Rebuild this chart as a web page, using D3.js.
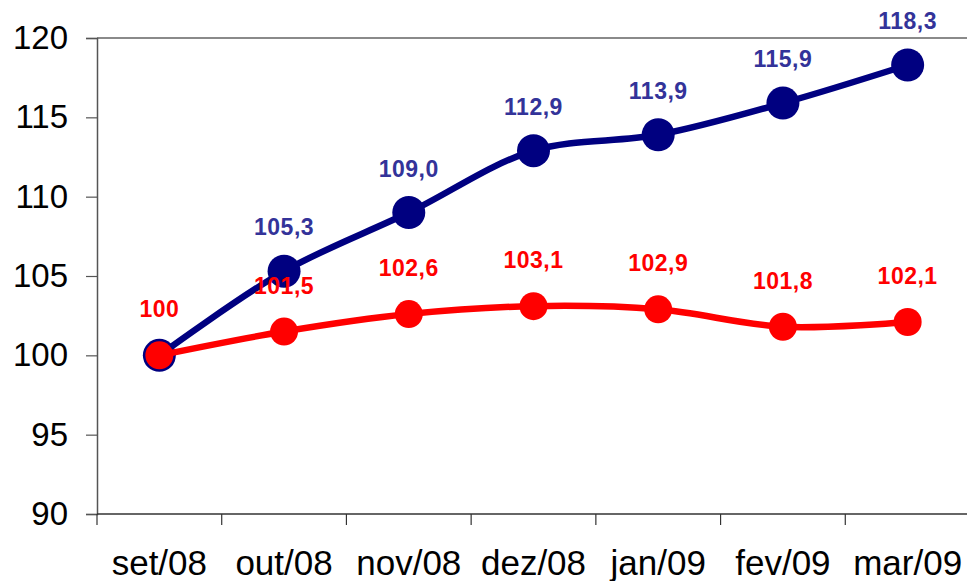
<!DOCTYPE html>
<html>
<head>
<meta charset="utf-8">
<script src="https://cdn.jsdelivr.net/npm/d3@7"></script>
<style>
  html, body { margin: 0; padding: 0; background: #fff; overflow: hidden; }
  svg { display: block; }
</style>
</head>
<body>
<svg id="chart" width="967" height="581"></svg>
<script>
// Index series (set/08 = 100)
const months = ["set/08", "out/08", "nov/08", "dez/08", "jan/09", "fev/09", "mar/09"];
const seriesBlue = [100, 105.3, 109.0, 112.9, 113.9, 115.9, 118.3];
const seriesRed = [100, 101.5, 102.6, 103.1, 102.9, 101.8, 102.1];
const labelsBlue = [null, "105,3", "109,0", "112,9", "113,9", "115,9", "118,3"];
const labelsRed = ["100", "101,5", "102,6", "103,1", "102,9", "101,8", "102,1"];
const yTicks = [90, 95, 100, 105, 110, 115, 120];

const svg = d3.select("#chart");
const plot = { left: 97, right: 970, top: 38, bottom: 514 };

const x = d3.scaleBand().domain(months).range([plot.left, plot.right]).paddingInner(0).paddingOuter(0);
const y = d3.scaleLinear().domain([90, 120]).range([plot.bottom, plot.top]);
const cx = d => x(d) + x.bandwidth() / 2;
const axisColor = "#555";

// plot-area frame (top edge)
svg.append("line")
  .attr("x1", plot.left).attr("x2", plot.right)
  .attr("y1", plot.top).attr("y2", plot.top)
  .attr("stroke", "#8a8a8a").attr("stroke-width", 2);

// y axis
const yAxis = svg.append("g")
  .attr("transform", `translate(${plot.left},0)`)
  .call(d3.axisLeft(y).tickValues(yTicks).tickSize(11).tickPadding(18).tickFormat(d3.format("d")));
yAxis.select(".domain").attr("stroke", axisColor).attr("stroke-width", 1.5);
yAxis.selectAll(".tick line").attr("stroke", axisColor).attr("stroke-width", 1.2);
yAxis.selectAll(".tick text")
  .attr("font-family", "Liberation Sans, Arial, sans-serif")
  .attr("font-size", 33).attr("fill", "#000");

// x axis: ticks at category boundaries
const xAxis = svg.append("g")
  .attr("transform", `translate(0,${plot.bottom})`);
xAxis.append("line")
  .attr("x1", plot.left).attr("x2", plot.right)
  .attr("y1", 0).attr("y2", 0)
  .attr("stroke", "#333").attr("stroke-width", 1.5);
xAxis.selectAll("line.tk")
  .data(months)
  .enter().append("line")
  .attr("class", "tk")
  .attr("x1", d => x(d)).attr("x2", d => x(d))
  .attr("y1", 0).attr("y2", 11)
  .attr("stroke", "#333").attr("stroke-width", 1.2);
xAxis.selectAll("text")
  .data(months)
  .enter().append("text")
  .attr("x", d => cx(d))
  .attr("y", 61)
  .attr("text-anchor", "middle")
  .attr("font-family", "Liberation Sans, Arial, sans-serif")
  .attr("font-size", 35)
  .attr("fill", "#000")
  .text(d => d);

const line = d3.line().curve(d3.curveCatmullRom.alpha(0.5));

function drawSeries(values, color, lineWidth, r) {
  const pts = values.map((v, i) => [cx(months[i]), y(v)]);
  svg.append("path")
    .attr("d", line(pts))
    .attr("fill", "none")
    .attr("stroke", color)
    .attr("stroke-width", lineWidth)
    .attr("stroke-linejoin", "round");
  svg.append("g").selectAll("circle")
    .data(pts)
    .enter().append("circle")
    .attr("cx", d => d[0]).attr("cy", d => d[1])
    .attr("r", r)
    .attr("fill", color);
}

drawSeries(seriesBlue, "#000080", 6.5, 16.5);
drawSeries(seriesRed, "#ff0000", 6.5, 14);

function drawLabels(values, labels, color, offset) {
  svg.append("g").selectAll("text")
    .data(values.map((v, i) => ({ v, i, t: labels[i] })).filter(d => d.t))
    .enter().append("text")
    .attr("x", d => cx(months[d.i]))
    .attr("y", d => y(d.v) - offset)
    .attr("text-anchor", "middle")
    .attr("font-family", "Liberation Sans, Arial, sans-serif")
    .attr("font-weight", "bold")
    .attr("font-size", 23)
    .attr("letter-spacing", 0.5)
    .attr("fill", color)
    .text(d => d.t);
}

drawLabels(seriesBlue, labelsBlue, "#333399", 36);
drawLabels(seriesRed, labelsRed, "#ff0000", 38);
</script>
</body>
</html>
